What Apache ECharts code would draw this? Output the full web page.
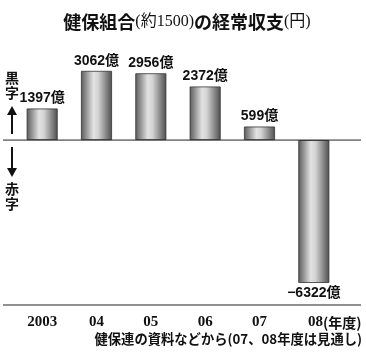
<!DOCTYPE html>
<html><head><meta charset="utf-8">
<script src="https://cdn.jsdelivr.net/npm/echarts@6/dist/echarts.min.js"></script>
<style>html,body{margin:0;padding:0;background:#fff}#c{width:366px;height:359px}</style>
</head><body><div id="c"></div>
<script>
const categories = ['2003', '04', '05', '06', '07', '08'];
const values = [1397, 3062, 2956, 2372, 599, -6322];
const unit = '億';

const chart = echarts.init(document.getElementById('c'), null, {renderer: 'canvas'});
const barGrad = new echarts.graphic.LinearGradient(0, 0, 1, 0, [
  {offset: 0, color: '#5a5a5a'},
  {offset: 0.4, color: '#e2e2e2'},
  {offset: 0.55, color: '#d4d4d4'},
  {offset: 1, color: '#4e4e4e'}
]);
const sans = '"Liberation Sans", "Noto Sans CJK JP", sans-serif';
const serif = '"Liberation Serif", "Noto Sans CJK JP", serif';

const option = {
  animation: false,
  grid: {left: 15, right: 25, top: 61, bottom: 54},
  xAxis: {
    type: 'category', data: categories,
    axisLine: {show: false}, axisTick: {show: false},
    axisLabel: {
      interval: 0, hideOverlap: false, margin: 10,
      formatter: (v, i) => i === categories.length - 1 ? '{p|}{a|' + v + '}{b|(年度)}' : '{a|' + v + '}',
      rich: {
        a: {fontFamily: serif, fontWeight: 'bold', fontSize: 15, color: '#111'},
        b: {fontFamily: '"Noto Sans CJK JP", sans-serif', fontWeight: 'bold', fontSize: 14, color: '#111'},
        p: {width: 42}
      }
    }
  },
  yAxis: {
    type: 'value', min: -7300, max: 3500,
    show: false, splitLine: {show: false}
  },
  series: [{
    type: 'bar', barWidth: 31,
    data: values.map(v => ({
      value: v,
      label: {position: v < 0 ? 'bottom' : 'top'}
    })),
    itemStyle: {color: barGrad, borderColor: '#333', borderWidth: 0.8},
    label: {
      show: true, distance: 3,
      fontFamily: sans, fontWeight: 'bold', fontSize: 14, color: '#111',
      formatter: p => (p.value < 0 ? '−' + Math.abs(p.value) : p.value) + unit
    }
  }]
};
chart.setOption(option);

const zeroY = chart.convertToPixel({yAxisIndex: 0}, 0);
const bottomY = 359 - 54;
chart.setOption({
  graphic: [
    {type: 'line', shape: {x1: 3, y1: zeroY, x2: 361, y2: zeroY}, style: {stroke: '#222', lineWidth: 1}, z: 10},
    {type: 'line', shape: {x1: 3, y1: bottomY, x2: 361, y2: bottomY}, style: {stroke: '#222', lineWidth: 1}},
    {type: 'text', x: 187, y: 22, style: {
      text: '{a|健保組合}{b|(約1500)}{a|の経常収支}{b|(円)}',
      align: 'center', verticalAlign: 'middle',
      rich: {
        a: {fontFamily: '"Noto Sans CJK JP", sans-serif', fontWeight: 'bold', fontSize: 18, fill: '#111'},
        b: {fontFamily: '"Liberation Serif", "Noto Sans CJK JP", serif', fontSize: 16, fill: '#111'}
      }
    }},
    {type: 'text', x: 12, y: 78, style: {text: '黒', align: 'center', verticalAlign: 'middle', fontFamily: '"Noto Sans CJK JP", sans-serif', fontWeight: 'bold', fontSize: 14, fill: '#111'}},
    {type: 'text', x: 12, y: 93, style: {text: '字', align: 'center', verticalAlign: 'middle', fontFamily: '"Noto Sans CJK JP", sans-serif', fontWeight: 'bold', fontSize: 14, fill: '#111'}},
    {type: 'text', x: 12, y: 189, style: {text: '赤', align: 'center', verticalAlign: 'middle', fontFamily: '"Noto Sans CJK JP", sans-serif', fontWeight: 'bold', fontSize: 14, fill: '#111'}},
    {type: 'text', x: 12, y: 204, style: {text: '字', align: 'center', verticalAlign: 'middle', fontFamily: '"Noto Sans CJK JP", sans-serif', fontWeight: 'bold', fontSize: 14, fill: '#111'}},
    {type: 'line', shape: {x1: 12, y1: 110, x2: 12, y2: 134}, style: {stroke: '#111', lineWidth: 2}},
    {type: 'polygon', shape: {points: [[12, 106], [7, 115], [17, 115]]}, style: {fill: '#111'}},
    {type: 'line', shape: {x1: 12, y1: 147, x2: 12, y2: 172}, style: {stroke: '#111', lineWidth: 2}},
    {type: 'polygon', shape: {points: [[12, 177], [7, 168], [17, 168]]}, style: {fill: '#111'}},
    {type: 'text', x: 362, y: 339, style: {
      text: '健保連の資料などから(07、08年度は見通し)', align: 'right', verticalAlign: 'middle',
      fontFamily: '"Noto Sans CJK JP", sans-serif', fontWeight: 'bold', fontSize: 13.3, fill: '#111'
    }}
  ]
});
</script></body></html>
